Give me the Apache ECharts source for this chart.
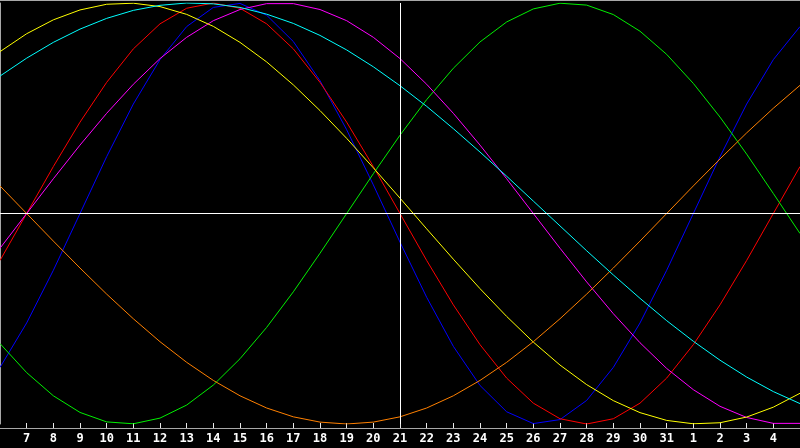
<!DOCTYPE html>
<html>
<head>
<meta charset="utf-8">
<script src="https://cdn.jsdelivr.net/npm/echarts@6/dist/echarts.min.js"></script>
<style>
html,body{margin:0;padding:0;background:#000;}
#chart{width:800px;height:448px;}
</style>
</head>
<body>
<div id="chart"></div>
<script>
// Day labels (6th of month through 5th of next month)
var days = ['6','7','8','9','10','11','12','13','14','15','16','17','18','19','20','21','22','23','24','25','26','27','28','29','30','31','1','2','3','4','5'];
var todayLabel = '21';

// Cycle values (-1 .. 1)
var blue23 = [-0.731,-0.520,-0.270,0,0.270,0.520,0.731,0.888,0.979,0.998,0.942,0.817,0.631,0.398,0.136,-0.136,-0.398,-0.631,-0.817,-0.942,-0.998,-0.979,-0.888,-0.731,-0.520,-0.270,0,0.270,0.520,0.731,0.888];
var red28 = [-0.223,0,0.223,0.434,0.623,0.782,0.901,0.975,1,0.975,0.901,0.782,0.623,0.434,0.223,0,-0.223,-0.434,-0.623,-0.782,-0.901,-0.975,-1,-0.975,-0.901,-0.782,-0.623,-0.434,-0.223,0,0.223];
var green33 = [-0.618,-0.756,-0.866,-0.945,-0.990,-0.999,-0.972,-0.910,-0.815,-0.690,-0.541,-0.372,-0.189,0,0.189,0.372,0.541,0.690,0.815,0.910,0.972,0.999,0.990,0.945,0.866,0.756,0.618,0.458,0.282,0.095,-0.095];
var magenta38 = [-0.165,0,0.165,0.325,0.476,0.614,0.736,0.837,0.916,0.969,0.997,0.997,0.969,0.916,0.837,0.736,0.614,0.476,0.325,0.165,0,-0.165,-0.325,-0.476,-0.614,-0.736,-0.837,-0.916,-0.969,-0.997,-0.997];
var yellow43 = [0.769,0.854,0.920,0.967,0.994,0.999,0.983,0.946,0.889,0.813,0.720,0.611,0.489,0.357,0.217,0.073,-0.073,-0.217,-0.357,-0.489,-0.611,-0.720,-0.813,-0.889,-0.946,-0.983,-0.999,-0.994,-0.967,-0.920,-0.854];
var orange48 = [0.131,0,-0.131,-0.259,-0.383,-0.5,-0.609,-0.707,-0.793,-0.866,-0.924,-0.966,-0.991,-1,-0.991,-0.966,-0.924,-0.866,-0.793,-0.707,-0.609,-0.5,-0.383,-0.259,-0.131,0,0.131,0.259,0.383,0.5,0.609];
var cyan53 = [0.653,0.738,0.813,0.876,0.927,0.965,0.989,1.000,0.996,0.979,0.947,0.903,0.846,0.777,0.697,0.607,0.509,0.403,0.292,0.177,0.059,-0.059,-0.177,-0.292,-0.403,-0.509,-0.607,-0.697,-0.777,-0.846,-0.903];

var chart = echarts.init(document.getElementById('chart'), null, {renderer:'canvas'});

function line(name, data, color, extra) {
  var s = {
    name: name, type: 'line', data: data, symbol: 'none', smooth: false,
    lineStyle: {color: color, width: 1}, itemStyle: {color: color},
    emphasis: {disabled: true}
  };
  if (extra) for (var k in extra) s[k] = extra[k];
  return s;
}

var inner = function (i) { return i > 0 && i < days.length - 1; };

chart.setOption({
  animation: false,
  backgroundColor: '#000000',
  grid: {left: 0, right: 0, top: 3, bottom: 24},
  xAxis: [{
    type: 'category', data: days, boundaryGap: false, offset: 4,
    axisLine: {show: true, onZero: false, lineStyle: {color: '#a8a8a8', width: 1}},
    axisTick: {show: true, inside: true, length: 5, interval: inner, lineStyle: {color: '#e8e8e8'}},
    axisLabel: {show: true, interval: inner, color: '#ffffff', fontFamily: 'DejaVu Sans Mono', fontWeight: 'bold', fontSize: 12, margin: 5},
    splitLine: {show: false}
  }, {
    type: 'category', data: days, boundaryGap: false, position: 'top', offset: 3,
    axisLine: {show: true, onZero: false, lineStyle: {color: '#a8a8a8', width: 1}},
    axisTick: {show: false}, axisLabel: {show: false}, splitLine: {show: false}
  }],
  yAxis: {
    type: 'value', min: -1, max: 1,
    axisLine: {show: true, onZero: false, lineStyle: {color: '#a8a8a8', width: 1}},
    axisTick: {show: false}, axisLabel: {show: false}, splitLine: {show: false}
  },
  series: [
    line('23', blue23, '#0000ff', {
      markLine: {
        silent: true, symbol: 'none', animation: false,
        label: {show: false},
        lineStyle: {color: '#ffffff', width: 1, type: 'solid'},
        data: [{xAxis: todayLabel}, {yAxis: 0}]
      }
    }),
    line('28', red28, '#ff0000'),
    line('33', green33, '#00f000'),
    line('38', magenta38, '#ff00ff'),
    line('43', yellow43, '#ffff00'),
    line('48', orange48, '#ff8000'),
    line('53', cyan53, '#00ffff')
  ]
});
</script>
</body>
</html>
